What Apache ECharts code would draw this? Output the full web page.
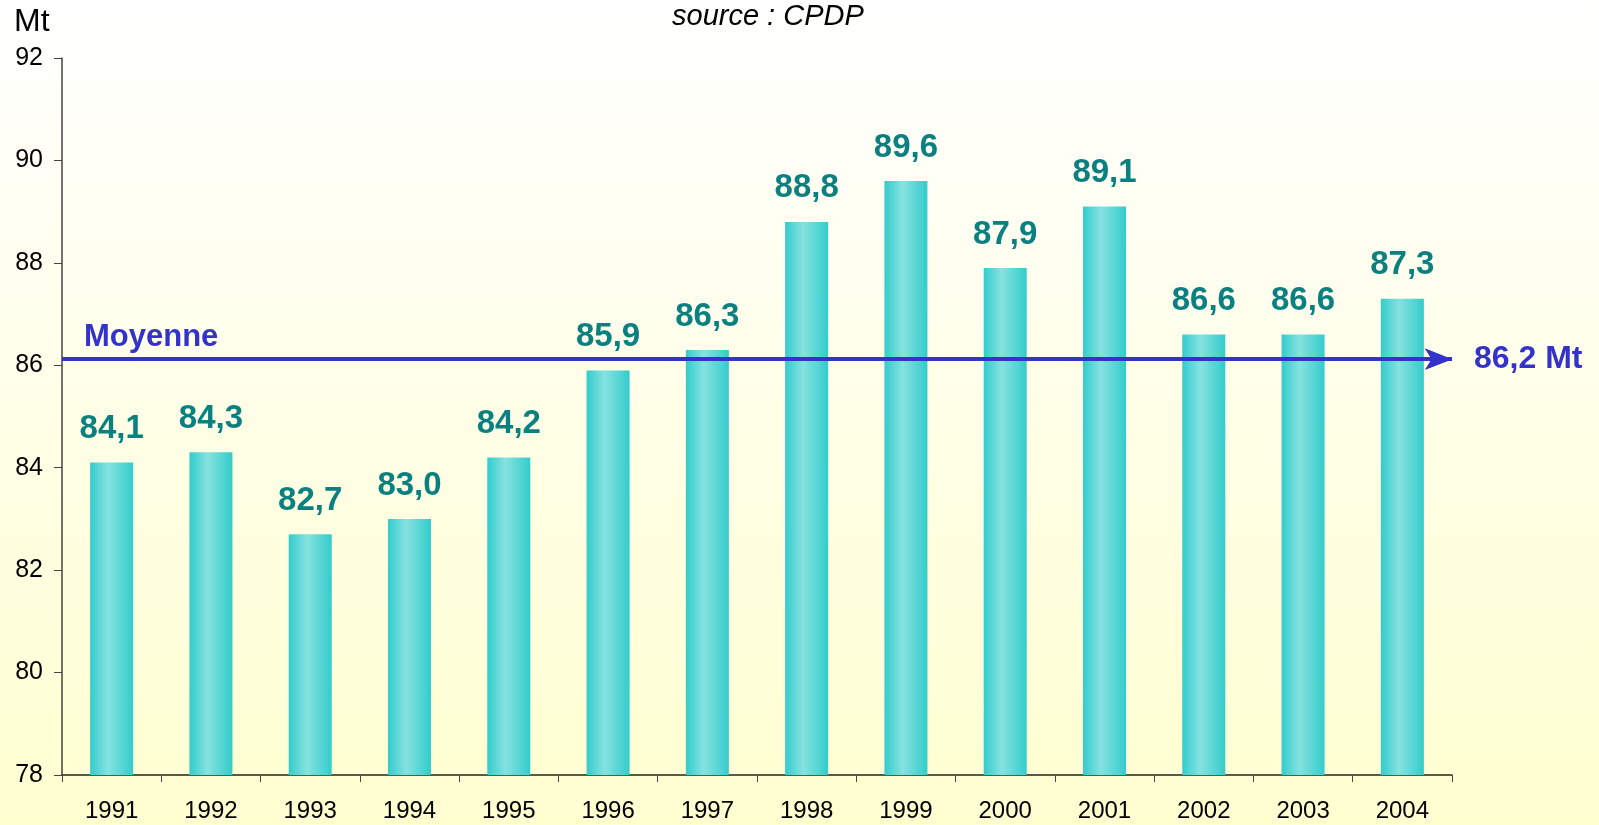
<!DOCTYPE html>
<html>
<head>
<meta charset="utf-8">
<script src="https://cdn.jsdelivr.net/npm/echarts@6/dist/echarts.min.js"></script>
<style>
    html, body { margin: 0; padding: 0; }
    #chart { width: 1599px; height: 825px; }
</style>
</head>
<body>
<div id="chart"></div>
<script>
// Data
const years = ['1991', '1992', '1993', '1994', '1995', '1996', '1997', '1998', '1999', '2000', '2001', '2002', '2003', '2004'];
const volumes = [84.1, 84.3, 82.7, 83.0, 84.2, 85.9, 86.3, 88.8, 89.6, 87.9, 89.1, 86.6, 86.6, 87.3];
const averageValue = 86.12;
const averageName = 'Moyenne';
const averageText = '86,2 Mt';
const yTicks = { min: 78, max: 92, interval: 2 };

const FONT = 'Liberation Sans, Arial, sans-serif';

// Format numbers the French way (comma decimal)
function frNumber(v) {
    return v.toFixed(1).replace('.', ',');
}

document.addEventListener('DOMContentLoaded', function() {
    const chart = echarts.init(document.getElementById('chart'));

    const barGradient = new echarts.graphic.LinearGradient(0, 0, 1, 0, [
        { offset: 0, color: '#33CCCC' },
        { offset: 0.42, color: '#86E2E0' },
        { offset: 1, color: '#33CCCC' }
    ]);

    const option = {
        backgroundColor: new echarts.graphic.LinearGradient(0, 0, 0, 1, [
            { offset: 0, color: '#FFFFFF' },
            { offset: 1, color: '#FFFFD0' }
        ]),
        animation: false,
        textStyle: { fontFamily: FONT },
        title: [
            {
                text: 'source : CPDP',
                left: 667, top: -3,
                textStyle: { fontFamily: FONT, fontSize: 29, fontStyle: 'italic', fontWeight: 'normal', color: '#000' }
            },
            {
                text: 'Mt',
                left: 9, top: 1,
                textStyle: { fontFamily: FONT, fontSize: 32, fontWeight: 'normal', color: '#000' }
            }
        ],
        grid: { left: 62, right: 147, top: 58, bottom: 50, containLabel: false },
        xAxis: {
            type: 'category',
            data: years,
            boundaryGap: true,
            axisLine: { lineStyle: { color: '#222', width: 1.5 } },
            axisTick: { show: true, length: 7, alignWithLabel: false, lineStyle: { color: '#444' } },
            axisLabel: { fontSize: 24, color: '#000', margin: 24, fontFamily: FONT }
        },
        yAxis: {
            type: 'value',
            min: yTicks.min,
            max: yTicks.max,
            interval: yTicks.interval,
            splitLine: { show: false },
            axisLine: { show: true, lineStyle: { color: '#444', width: 1.5 } },
            axisTick: { show: true, length: 8, lineStyle: { color: '#444' } },
            axisLabel: { fontSize: 25, color: '#000', margin: 19, fontFamily: FONT }
        },
        series: [{
            type: 'bar',
            data: volumes,
            barWidth: 43,
            itemStyle: { color: barGradient },
            label: {
                show: true,
                position: 'top',
                distance: 17,
                formatter: p => frNumber(p.value),
                fontFamily: FONT,
                fontSize: 33,
                fontWeight: 'bold',
                color: '#0A8080'
            },
            markLine: {
                silent: true,
                symbol: ['none', 'arrow'],
                symbolSize: [16, 27],
                lineStyle: { color: '#3333CC', width: 4, type: 'solid' },
                data: [
                    {
                        yAxis: averageValue,
                        label: {
                            show: true,
                            position: 'insideStartTop',
                            formatter: averageName,
                            distance: [22, 6],
                            fontFamily: FONT,
                            fontSize: 31,
                            fontWeight: 'bold',
                            color: '#3333CC'
                        }
                    },
                    {
                        yAxis: averageValue,
                        label: {
                            show: true,
                            position: 'end',
                            formatter: averageText,
                            distance: 22,
                            fontFamily: FONT,
                            fontSize: 32,
                            fontWeight: 'bold',
                            color: '#3333CC'
                        }
                    }
                ]
            }
        }]
    };

    chart.setOption(option);
});
</script>
</body>
</html>
